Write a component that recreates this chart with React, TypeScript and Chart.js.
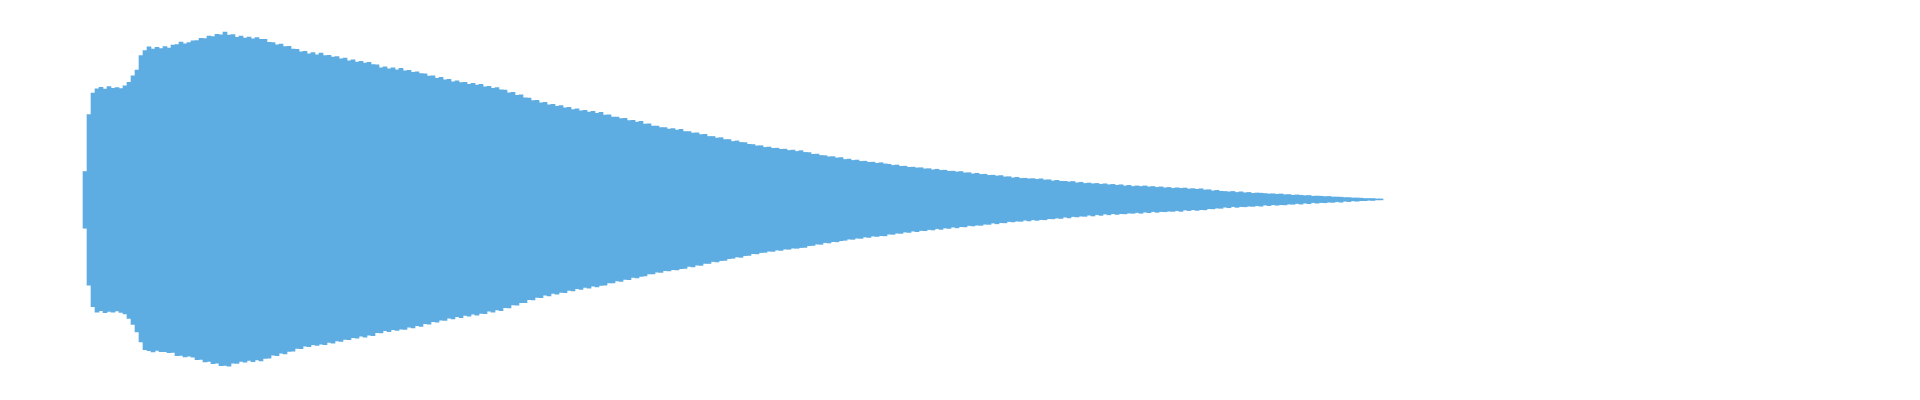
import React, { useEffect, useRef } from "react";
import { Chart, registerables } from "chart.js";

Chart.register(...registerables);

// Waveform envelope: one bar per 10 ms window, floating between the window's min and max sample.
const START_S = 0.1925; // centre time of the first window (seconds)
const STEP_S = 0.01; // window length (seconds)
const DURATION_S = 4.76; // length of the shown time axis (seconds)

const PEAK_MAX: number[] = [
  0.146, 0.444, 0.556, 0.578, 0.586, 0.576, 0.590, 0.581, 0.584, 0.579,
  0.594, 0.612, 0.646, 0.676, 0.751, 0.778, 0.797, 0.786, 0.795, 0.788,
  0.799, 0.791, 0.806, 0.809, 0.822, 0.813, 0.819, 0.829, 0.830, 0.842,
  0.840, 0.853, 0.851, 0.862, 0.860, 0.874, 0.858, 0.861, 0.847, 0.853,
  0.843, 0.848, 0.839, 0.846, 0.837, 0.836, 0.821, 0.820, 0.808, 0.811,
  0.798, 0.800, 0.785, 0.784, 0.771, 0.774, 0.761, 0.767, 0.756, 0.764,
  0.751, 0.753, 0.744, 0.746, 0.735, 0.738, 0.724, 0.730, 0.717, 0.722,
  0.712, 0.716, 0.704, 0.703, 0.688, 0.693, 0.683, 0.688, 0.677, 0.685,
  0.672, 0.675, 0.664, 0.667, 0.657, 0.656, 0.644, 0.646, 0.633, 0.638,
  0.625, 0.628, 0.615, 0.620, 0.610, 0.612, 0.602, 0.607, 0.597, 0.601,
  0.589, 0.591, 0.581, 0.584, 0.573, 0.572, 0.557, 0.560, 0.544, 0.547,
  0.531, 0.530, 0.516, 0.518, 0.505, 0.508, 0.495, 0.497, 0.487, 0.491,
  0.479, 0.481, 0.469, 0.474, 0.463, 0.466, 0.456, 0.461, 0.450, 0.455,
  0.441, 0.442, 0.430, 0.431, 0.423, 0.424, 0.412, 0.413, 0.404, 0.408,
  0.394, 0.395, 0.383, 0.384, 0.376, 0.376, 0.368, 0.370, 0.363, 0.366,
  0.355, 0.355, 0.347, 0.348, 0.339, 0.340, 0.329, 0.329, 0.321, 0.323,
  0.313, 0.313, 0.303, 0.306, 0.298, 0.297, 0.288, 0.287, 0.280, 0.281,
  0.272, 0.274, 0.267, 0.268, 0.262, 0.263, 0.256, 0.258, 0.251, 0.255,
  0.246, 0.245, 0.236, 0.237, 0.230, 0.229, 0.223, 0.224, 0.217, 0.219,
  0.209, 0.211, 0.204, 0.206, 0.199, 0.200, 0.194, 0.195, 0.189, 0.192,
  0.186, 0.184, 0.178, 0.180, 0.173, 0.174, 0.168, 0.169, 0.165, 0.166,
  0.160, 0.161, 0.155, 0.158, 0.152, 0.153, 0.147, 0.148, 0.144, 0.146,
  0.139, 0.140, 0.134, 0.137, 0.131, 0.132, 0.126, 0.127, 0.123, 0.125,
  0.118, 0.119, 0.113, 0.116, 0.110, 0.111, 0.108, 0.109, 0.105, 0.108,
  0.102, 0.103, 0.097, 0.100, 0.095, 0.095, 0.092, 0.094, 0.087, 0.090,
  0.084, 0.086, 0.082, 0.084, 0.079, 0.082, 0.077, 0.079, 0.074, 0.077,
  0.071, 0.074, 0.068, 0.071, 0.068, 0.071, 0.066, 0.068, 0.063, 0.066,
  0.061, 0.063, 0.058, 0.061, 0.058, 0.060, 0.055, 0.057, 0.053, 0.056,
  0.050, 0.051, 0.045, 0.048, 0.043, 0.042, 0.040, 0.042, 0.037, 0.040,
  0.035, 0.037, 0.032, 0.034, 0.033, 0.031, 0.029, 0.030, 0.027, 0.029,
  0.025, 0.026, 0.022, 0.024, 0.022, 0.020, 0.021, 0.017, 0.018, 0.017,
  0.015, 0.016, 0.013, 0.013, 0.012, 0.010, 0.010, 0.008, 0.008, 0.007,
  0.005, 0.005, 0.005, 0.003, 0.003,
];

const PEAK_MIN: number[] = [
  -0.150, -0.447, -0.560, -0.588, -0.580, -0.591, -0.584, -0.589, -0.582, -0.590,
  -0.597, -0.621, -0.652, -0.691, -0.744, -0.784, -0.790, -0.796, -0.788, -0.794,
  -0.795, -0.800, -0.799, -0.815, -0.814, -0.822, -0.818, -0.823, -0.836, -0.835,
  -0.848, -0.845, -0.857, -0.855, -0.868, -0.866, -0.870, -0.855, -0.856, -0.846,
  -0.850, -0.840, -0.847, -0.838, -0.843, -0.830, -0.828, -0.813, -0.815, -0.803,
  -0.806, -0.793, -0.792, -0.778, -0.779, -0.766, -0.768, -0.758, -0.762, -0.755,
  -0.758, -0.746, -0.750, -0.738, -0.741, -0.730, -0.732, -0.721, -0.724, -0.714,
  -0.719, -0.709, -0.711, -0.696, -0.697, -0.685, -0.690, -0.680, -0.684, -0.677,
  -0.679, -0.667, -0.670, -0.659, -0.663, -0.649, -0.651, -0.638, -0.641, -0.630,
  -0.632, -0.620, -0.623, -0.612, -0.617, -0.605, -0.609, -0.599, -0.604, -0.595,
  -0.596, -0.583, -0.588, -0.576, -0.580, -0.565, -0.566, -0.551, -0.552, -0.539,
  -0.539, -0.523, -0.524, -0.511, -0.513, -0.500, -0.503, -0.490, -0.494, -0.485,
  -0.486, -0.475, -0.477, -0.466, -0.470, -0.459, -0.463, -0.453, -0.457, -0.449,
  -0.447, -0.436, -0.436, -0.425, -0.428, -0.417, -0.418, -0.407, -0.410, -0.402,
  -0.399, -0.389, -0.389, -0.379, -0.381, -0.371, -0.373, -0.366, -0.368, -0.361,
  -0.360, -0.350, -0.352, -0.343, -0.344, -0.334, -0.334, -0.324, -0.326, -0.319,
  -0.318, -0.309, -0.307, -0.300, -0.302, -0.293, -0.292, -0.283, -0.284, -0.277,
  -0.276, -0.270, -0.271, -0.264, -0.266, -0.259, -0.260, -0.254, -0.255, -0.251,
  -0.250, -0.241, -0.240, -0.233, -0.234, -0.225, -0.227, -0.220, -0.221, -0.215,
  -0.213, -0.207, -0.208, -0.202, -0.203, -0.196, -0.198, -0.191, -0.193, -0.189,
  -0.190, -0.181, -0.182, -0.176, -0.177, -0.170, -0.172, -0.165, -0.168, -0.162,
  -0.163, -0.157, -0.159, -0.152, -0.156, -0.149, -0.151, -0.144, -0.148, -0.142,
  -0.143, -0.136, -0.138, -0.134, -0.135, -0.129, -0.130, -0.123, -0.127, -0.121,
  -0.122, -0.115, -0.117, -0.113, -0.114, -0.108, -0.112, -0.106, -0.109, -0.105,
  -0.106, -0.100, -0.101, -0.097, -0.099, -0.092, -0.096, -0.089, -0.091, -0.087,
  -0.088, -0.082, -0.086, -0.079, -0.083, -0.076, -0.080, -0.074, -0.078, -0.074,
  -0.075, -0.071, -0.072, -0.068, -0.072, -0.066, -0.069, -0.063, -0.067, -0.063,
  -0.064, -0.061, -0.062, -0.058, -0.062, -0.055, -0.058, -0.053, -0.057, -0.053,
  -0.054, -0.048, -0.049, -0.045, -0.046, -0.040, -0.043, -0.037, -0.041, -0.037,
  -0.038, -0.035, -0.036, -0.032, -0.035, -0.029, -0.032, -0.027, -0.030, -0.027,
  -0.028, -0.024, -0.025, -0.021, -0.024, -0.019, -0.022, -0.016, -0.019, -0.016,
  -0.017, -0.014, -0.015, -0.011, -0.014, -0.009, -0.011, -0.007, -0.009, -0.006,
  -0.006, -0.004, -0.005, -0.002, -0.002,
];

const WAVE_COLOR = "#5DADE2";

export default function App() {
  const canvasRef = useRef<HTMLCanvasElement | null>(null);

  useEffect(() => {
    if (!canvasRef.current) return;
    const points = PEAK_MAX.map((hi, i) => ({
      x: START_S + i * STEP_S,
      y: [PEAK_MIN[i], hi],
    }));
    const chart = new Chart(canvasRef.current, {
      type: "bar",
      data: {
        datasets: [
          {
            label: "Waveform",
            data: points as any,
            backgroundColor: WAVE_COLOR,
            borderWidth: 0,
            barPercentage: 1,
            categoryPercentage: 1,
            grouped: false,
          },
        ],
      },
      options: {
        animation: false,
        responsive: true,
        maintainAspectRatio: false,
        layout: { padding: 0 },
        plugins: {
          legend: { display: false },
          tooltip: { enabled: false },
        },
        scales: {
          x: {
            type: "linear",
            display: false,
            offset: false,
            min: 0,
            max: DURATION_S,
            grid: { display: false },
          },
          y: {
            display: false,
            min: -1,
            max: 1,
            grid: { display: false },
          },
        },
      },
    });
    return () => chart.destroy();
  }, []);

  return (
    <div style={{ width: "100%", height: "383px", position: "relative" }}>
      <canvas ref={canvasRef} />
    </div>
  );
}
